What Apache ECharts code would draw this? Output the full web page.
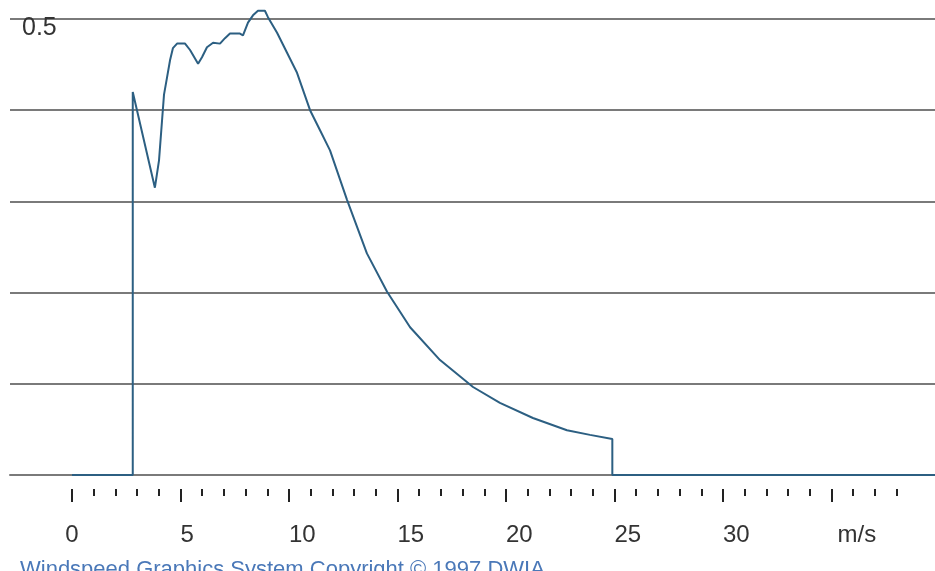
<!DOCTYPE html>
<html>
<head>
<meta charset="utf-8">
<title>Power coefficient</title>
<script src="https://cdn.jsdelivr.net/npm/echarts@6/dist/echarts.min.js"></script>
<style>
  html, body { margin: 0; padding: 0; background: #ffffff; }
  #chart { width: 935px; height: 571px; }
</style>
</head>
<body>
<div id="chart"></div>
<script>
// Wind speed (m/s) and power coefficient along the curve
const windSpeed = [
  0, 2.8, 2.8, 3.82, 4.01, 4.15, 4.24, 4.38, 4.52, 4.65, 4.84, 5.21, 5.44, 5.81,
  5.99, 6.22, 6.50, 6.82, 7.05, 7.28, 7.74, 7.88, 8.11, 8.34, 8.57, 8.89, 9.03,
  9.45, 9.91, 10.37, 10.97, 11.43, 11.89, 12.67, 13.59, 14.52, 15.58, 16.96,
  18.48, 19.72, 21.24, 22.81, 23.87, 24.9, 24.9, 39.8
];
const powerCoef = [
  0, 0, 0.42, 0.315, 0.345, 0.389, 0.417, 0.436, 0.455, 0.468, 0.473, 0.473, 0.466, 0.451,
  0.458, 0.469, 0.474, 0.473, 0.479, 0.484, 0.484, 0.482, 0.496, 0.504, 0.509, 0.509, 0.502,
  0.485, 0.463, 0.441, 0.400, 0.378, 0.356, 0.302, 0.243, 0.201, 0.162, 0.126,
  0.0965, 0.079, 0.0625, 0.049, 0.044, 0.0395, 0, 0
];

// Tick marks along the speed scale, and the labelled ones
const tickValues = [];
for (let v = 0; v <= 38; v++) tickValues.push(v);
const labelAt   = [0, 5, 10, 15, 20, 25, 30, 35];
const labelText = ['0', '5', '10', '15', '20', '25', '30', 'm/s'];

// Value axis: range, gridline step and the one printed value
const yMin = 0, yMax = 0.5, yStep = 0.1;
const yLabelValue = 0.5;

const footer = 'Windspeed Graphics System Copyright \u00A9 1997 DWIA';

// ---- layout ----
const FONT = "'Liberation Sans', Arial, sans-serif";
const ZERO_X = 72;       // pixel column of 0 m/s
const UNIT = 21.7;       // pixels per m/s
const PLOT_LEFT = 10, PLOT_RIGHT = 935;
const PLOT_TOP = 19, PLOT_BOTTOM = 475;
const TICK_Y = 489;
const GRID_COLOR = '#7a7a7a';

const pairs = windSpeed.map((x, i) => [x, powerCoef[i]]);
const isMajor = v => labelAt.indexOf(Number(v)) >= 0;

const categoryData = tickValues.map(v => {
  const s = String(v);
  if (v === 0) return { value: s, textStyle: { align: 'center' } };
  if (v === 35) return { value: s, textStyle: { align: 'left', padding: [0, 0, 0, 6] } };
  return s;
});

const chart = echarts.init(document.getElementById('chart'), null, { renderer: 'canvas' });

chart.setOption({
  animation: false,
  backgroundColor: '#ffffff',
  title: {
    text: footer,
    left: 20,
    top: 559,
    padding: 0,
    textStyle: { fontSize: 22, fontWeight: 'normal', color: '#4a78b8', fontFamily: FONT }
  },
  grid: [
    {
      left: PLOT_LEFT, right: 935 - PLOT_RIGHT,
      top: PLOT_TOP, bottom: 571 - PLOT_BOTTOM,
      containLabel: false
    },
    {
      left: ZERO_X, width: 38 * UNIT,
      top: 300, bottom: 571 - TICK_Y,
      containLabel: false
    }
  ],
  xAxis: [
    {
      type: 'value',
      gridIndex: 0,
      min: (PLOT_LEFT - ZERO_X) / UNIT,
      max: (PLOT_RIGHT - ZERO_X) / UNIT,
      axisLine: { show: true, onZero: false, lineStyle: { color: GRID_COLOR, width: 2 } },
      axisTick: { show: false },
      axisLabel: { show: false },
      splitLine: { show: false }
    },
    {
      type: 'category',
      gridIndex: 1,
      position: 'bottom',
      boundaryGap: false,
      data: tickValues.map(String),
      axisLine: { show: false },
      axisTick: { show: true, interval: 0, length: 7, lineStyle: { color: '#222222', width: 2 } },
      axisLabel: { show: false },
      splitLine: { show: false }
    },
    {
      type: 'category',
      gridIndex: 1,
      position: 'bottom',
      boundaryGap: false,
      data: categoryData,
      axisLine: { show: false },
      axisTick: {
        show: true,
        interval: (i, v) => isMajor(v),
        length: 13,
        lineStyle: { color: '#222222', width: 2 }
      },
      axisLabel: {
        show: true,
        interval: (i, v) => isMajor(v),
        formatter: v => {
          const k = labelAt.indexOf(Number(v));
          return k >= 0 ? labelText[k] : '';
        },
        align: 'left',
        margin: 34,
        fontSize: 24,
        color: '#333333',
        fontFamily: FONT
      },
      splitLine: { show: false }
    }
  ],
  yAxis: [
    {
      type: 'value',
      gridIndex: 0,
      min: yMin, max: yMax, interval: yStep,
      axisLine: { show: false },
      axisTick: { show: false },
      splitLine: { show: true, lineStyle: { color: GRID_COLOR, width: 2 } },
      axisLabel: {
        inside: true,
        margin: 12,
        formatter: v => (Math.abs(v - yLabelValue) < 1e-6 ? '{v|' + yLabelValue + '}' : ''),
        verticalAlign: 'middle',
        rich: {
          v: {
            fontSize: 25,
            color: '#333333',
            fontFamily: FONT,
            padding: [18, 0, 0, 0]
          }
        }
      }
    },
    {
      type: 'value',
      gridIndex: 1,
      show: false
    }
  ],
  series: [
    {
      type: 'line',
      xAxisIndex: 0,
      yAxisIndex: 0,
      data: pairs,
      symbol: 'none',
      showSymbol: false,
      clip: false,
      silent: true,
      lineStyle: { color: '#2c5f82', width: 2 },
      z: 5
    }
  ]
});
</script>
</body>
</html>
